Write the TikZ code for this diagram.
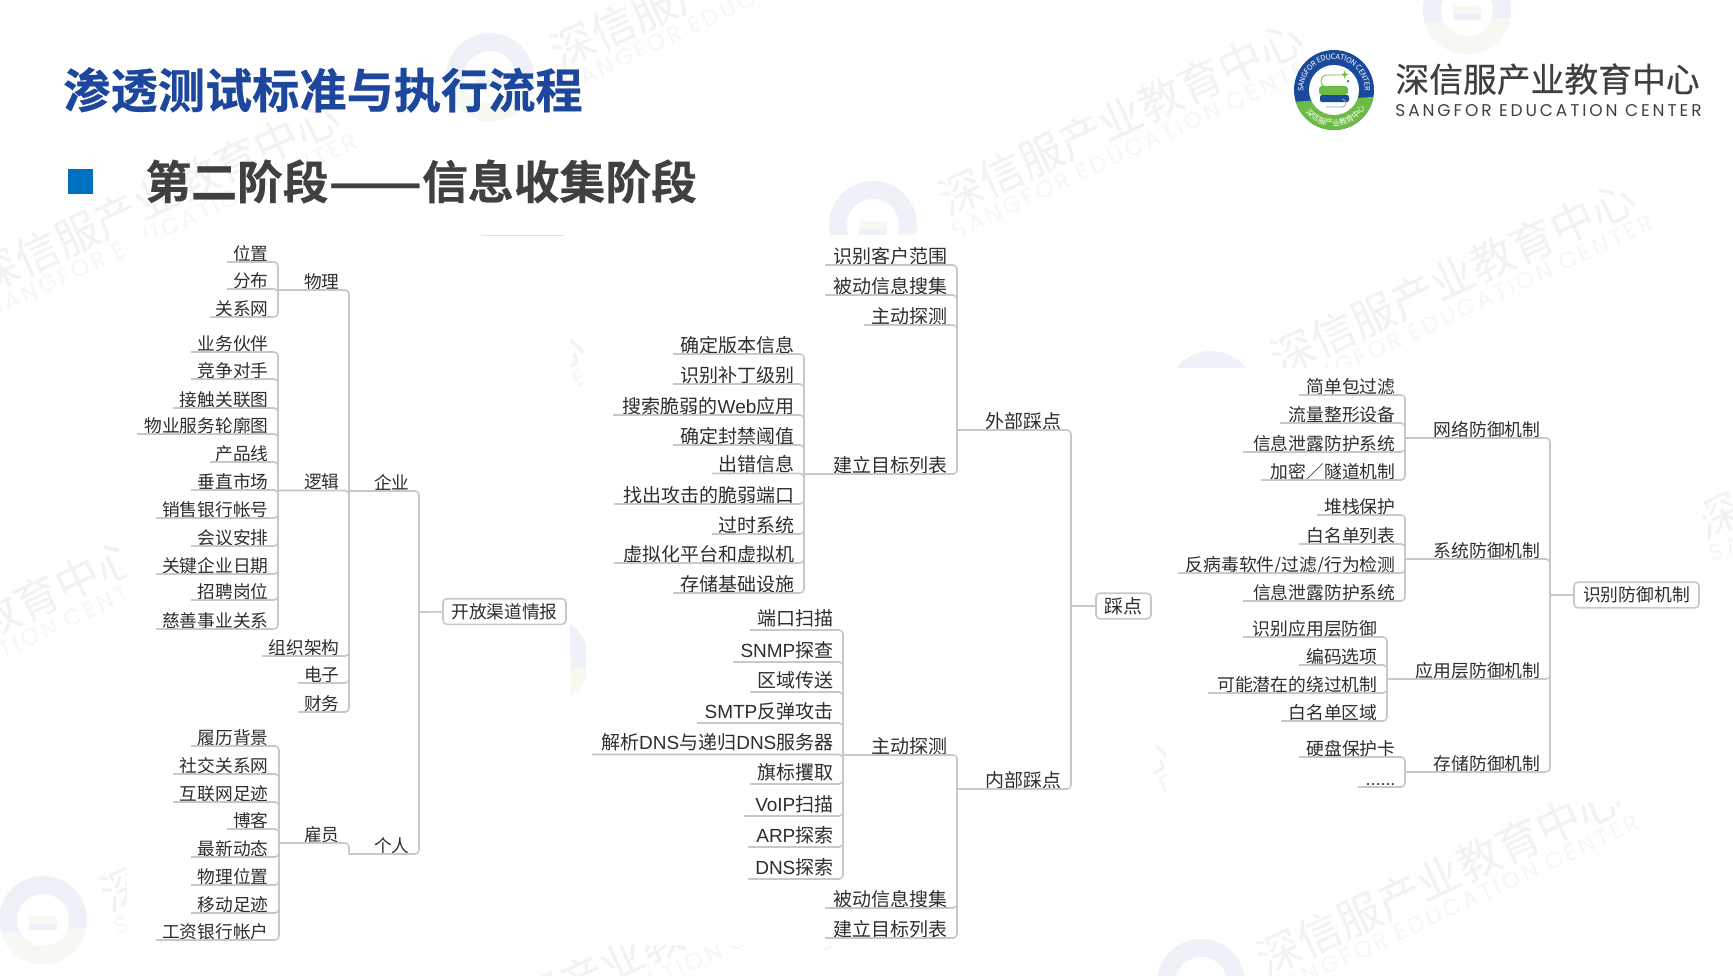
\documentclass[tikz,border=0pt]{standalone}
\usepackage{xcolor}
\usepackage{graphicx}
\usepackage{fontspec}
\usetikzlibrary{positioning,calc,decorations.text}
\setmainfont{Noto Sans CJK SC}
\newfontfamily\latinfont{Liberation Sans}
\newfontfamily\brandfont[LetterSpace=17]{Poppins}
\newfontfamily\wmfont[LetterSpace=15]{Poppins}
\newfontfamily\heavyfont[FakeBold=0.5]{Noto Sans CJK SC Bold}
\newfontfamily\brandcnfont[FakeBold=0.3]{Noto Sans CJK SC}
\newcommand{\la}[1]{{\latinfont #1}}
\definecolor{titleblue}{HTML}{1D479D}
\definecolor{logoblue}{HTML}{1B4A9C}
\definecolor{logogreen}{HTML}{6DBB45}
\definecolor{markblue}{HTML}{0070C0}
\definecolor{darktext}{HTML}{404040}
\definecolor{linegray}{HTML}{C8C8C8}
\definecolor{maptext}{HTML}{2E2E2E}
\definecolor{wmblue}{HTML}{EEF1F8}
\definecolor{wmgreen}{HTML}{F5F9F1}

\begin{document}
\begin{tikzpicture}[x=0.5pt, y=-0.5pt,
  item/.style={anchor=south west, inner xsep=0pt, inner ysep=0pt, align=right,
               text height=0.82em, text depth=0.08em, text=maptext},
  lefttree/.style={item, font=\fontsize{8.85}{10}\selectfont},
  midtree/.style={item, font=\fontsize{9.5}{11}\selectfont},
  righttree/.style={item, font=\fontsize{8.9}{10}\selectfont},
  rootbox/.style={draw=linegray, line width=0.8pt, rounded corners=2pt, fill=white,
                  inner sep=0pt, minimum height=12.8pt, text=maptext},
  link/.style={draw=linegray, line width=0.8pt, rounded corners=2pt},
  wmtext/.style={transform shape, anchor=base west, inner sep=0pt}]

\path[use as bounding box, clip] (0,0) rectangle (1733,975);
\fill[white] (0,0) rectangle (1733,975);

% watermark
\foreach \x/\y in {560/70, 948/217, 1280/377, 1266/977, 110/913, -16/296, -215/734,
                   449/1058, 1705/540, 229/524, 815/930}{
  \begin{scope}[shift={(\x,\y)}, rotate=25]
    \node[wmtext, text=black!5, font=\fontsize{22}{24}\selectfont] at (0pt,0pt) {深信服产业教育中心};
    \node[wmtext, text=black!3.5, font=\wmfont\fontsize{11.5}{14}\selectfont] at (-1pt,-12pt) {SANGFOR EDUCATION CENTER};
  \end{scope}
}
\foreach \x/\y in {1467/10, 490/77, 873/225, 1211/395, 1201/983, 43/920, 545/660}{
  \begin{scope}[shift={(\x,\y)}]
    \fill[wmblue] (0pt,0pt) circle (22pt);
    \fill[wmgreen] (197:22pt) arc[start angle=197, end angle=350, radius=22pt] -- cycle;
    \fill[white] (0pt,0pt) circle (13pt);
    \fill[wmgreen] (-7pt,-2pt) rectangle (7pt,2pt);
    \fill[wmblue] (-7pt,-5pt) rectangle (7pt,-2pt);
  \end{scope}
}

% white panels of the three maps
\fill[white] (127,235) rectangle (570,962);
\fill[white] (586,235) rectangle (1154,945);
\fill[white] (1166,368) rectangle (1702,802);
\draw[black!12, line width=0.5pt] (481,235) -- (564,235);

% header
\node[anchor=base west, inner sep=0pt, text=titleblue, font=\heavyfont\fontsize{23.6}{26}\selectfont]
  (title) at (63,108) {渗透测试标准与执行流程};
\fill[markblue] (68,169) rectangle (93,194);
\node[anchor=base west, inner sep=0pt, text=darktext, font=\heavyfont\fontsize{22.9}{26}\selectfont]
  (subtitle) at (145,199) {第二阶段\scalebox{1.2}[1]{——}信息收集阶段};

% logo
\begin{scope}[shift={(1334,90)}]
  \fill[logoblue] (0pt,0pt) circle (20pt);
  \fill[logogreen] (197:20pt) arc[start angle=197, end angle=350, radius=20pt] -- cycle;
  \fill[white] (0pt,0pt) circle (12.5pt);
  \path[decorate, decoration={text along path, text align=center, raise=-1.2pt,
        text={|\color{white}\fontsize{3.7}{4}\selectfont|SANGFOR EDUCATION CENTER}}]
    (188:16.5pt) arc[start angle=188, end angle=-8, radius=16.5pt];
  \path[decorate, decoration={text along path, text align=center, raise=0pt,
        text={|\color{white}\fontsize{3.9}{4}\selectfont|深信服产业教育中心}}]
    (207:18pt) arc[start angle=207, end angle=340, radius=18pt];
  \fill[logogreen, rounded corners=1.5pt] (-7.5pt,-2.5pt) rectangle (7pt,2pt);
  \fill[logoblue, rounded corners=1pt] (-7pt,-6pt) rectangle (7.5pt,-2.5pt);
  \draw[logogreen, line width=0.4pt] (3pt,7.5pt) -- (-3.5pt,7.5pt) arc[start angle=90, end angle=270, radius=3pt];
  \draw[logoblue!50, line width=0.4pt] (-4pt,-8.5pt) -- (4pt,-8.5pt) arc[start angle=-90, end angle=90, radius=2pt];
  \fill[logogreen] (5.3pt,9.8pt) -- (5.8pt,8.2pt) -- (7.4pt,7.7pt) -- (5.8pt,7.2pt) -- (5.3pt,5.6pt) -- (4.8pt,7.2pt) -- (3.2pt,7.7pt) -- (4.8pt,8.2pt) -- cycle;
  \fill[logoblue] (7pt,4.4pt) circle (0.6pt);
\end{scope}
\node[anchor=base west, inner sep=0pt, text=darktext, font=\brandcnfont\fontsize{16.9}{19}\selectfont]
  (brandcn) at (1395,92) {深信服产业教育中心};
\node[anchor=base west, inner sep=0pt, text=darktext, font=\brandfont\fontsize{8.5}{10}\selectfont]
  (branden) at (1395,116) {SANGFOR EDUCATION CENTER};

% left map
\node[rootbox, minimum width=61.5pt, font=\fontsize{8.85}{10}\selectfont] (osint) at (504.5,611.5) {开放渠道情报};
\coordinate (osbus) at (419,612);
\draw[link] (osbus) -- (osint);
\foreach \n/\y/\t in {ent/491/企业, per/854/个人}{
  \node[lefttree, text width={0.5*(419-349)*1pt}] (\n) at (349,\y) {\t\kern5pt};
  \draw[link] (\n.south west) -| (osbus);
}
\foreach \n/\p/\l/\r/\y/\t in {
  phy/ent/278/349/290/物理, lgc/ent/278/349/490.5/逻辑, org/ent/262/349/656/组织架构,
  ele/ent/298/349/683/电子, fin/ent/298/349/712/财务, emp/per/279/349/843/雇员,
  pos/phy/227/278/262/位置, dis/phy/227/278/289/分布, rel/phy/210/278/317/关系网,
  par/lgc/191/278/352/业务伙伴, com/lgc/191/278/379/竞争对手, cnt/lgc/173/278/408/接触关联图,
  svc/lgc/137/278/434/物业服务轮廓图, prd/lgc/210/278/462/产品线, ver/lgc/191/278/490/垂直市场,
  acc/lgc/156/278/518/销售银行帐号, mtg/lgc/191/278/546/会议安排, day/lgc/156/278/574/关键企业日期,
  job/lgc/191/278/600/招聘岗位, cha/lgc/156/278/629/慈善事业关系,
  cvs/emp/191/278/746/履历背景, soc/emp/173/278/774/社交关系网, web/emp/173/278/802/互联网足迹,
  blg/emp/227/278/829/博客, nws/emp/191/278/857/最新动态, loc/emp/191/278/885/物理位置,
  mob/emp/191/278/913/移动足迹, pay/emp/156/278/940/工资银行帐户}{
  \node[lefttree, text width={0.5*(\r-\l)*1pt}] (\n) at (\l,\y) {\t\kern5pt};
  \draw[link] (\n.south west) -| (\p.south west);
}

% middle map
\node[rootbox, minimum width=27.5pt, font=\fontsize{9.5}{11}\selectfont] (foot) at (1123.5,606) {踩点};
\coordinate (footbus) at (1071,606);
\draw[link] (footbus) -- (foot);
\foreach \n/\y/\t in {ext/430/外部踩点, int/789/内部踩点}{
  \node[midtree, text width={0.5*(1071-957)*1pt}] (\n) at (957,\y) {\t\kern5pt};
  \draw[link] (\n.south west) -| (footbus);
}
\foreach \n/\p/\l/\r/\y/\t in {
  scope/ext/825/957/265/识别客户范围, pasv/ext/825/957/295/被动信息搜集, actv/ext/864/957/325/主动探测,
  list/ext/804/957/474/建立目标列表, iact/int/843/957/755/主动探测,
  ipas/int/825/957/908/被动信息搜集, ilst/int/825/957/938/建立目标列表,
  vers/list/673/804/354/确定版本信息, patch/list/673/804/384/识别补丁级别,
  wapp/list/613/804/415/搜索脆弱的\la{Web}应用, block/list/673/804/445/确定封禁阈值,
  errs/list/712/804/473.5/出错信息, port/list/614/804/504/找出攻击的脆弱端口,
  olds/list/712/804/534/过时系统, virt/list/614/804/563/虚拟化平台和虚拟机,
  stor/list/673/804/593/存储基础设施}{
  \node[midtree, text width={0.5*(\r-\l)*1pt}] (\n) at (\l,\y) {\t\kern5pt};
  \draw[link] (\n.south west) -| (\p.south west);
}
\foreach \n/\l/\y/\t in {
  scan/750/630/端口扫描, snmp/733/662/\la{SNMP}探查, zone/750/692/区域传送,
  smtp/697/723/\la{SMTP}反弹攻击, rdns/592/754.5/解析\la{DNS}与递归\la{DNS}服务器,
  bann/750/784/旗标攫取, voip/744/816/\la{VoIP}扫描,
  arpp/748/847/\la{ARP}探索, dnsp/748/879/\la{DNS}探索}{
  \node[midtree, text depth=0.21em, text width={0.5*(843-\l)*1pt}] (\n) at (\l,\y) {\t\kern5pt};
  \draw[link] (\n.south west) -| (iact.south west);
}

% right map
\node[rootbox, minimum width=62.5pt, font=\fontsize{8.9}{10}\selectfont] (defs) at (1636.5,595) {识别防御机制};
\coordinate (defsbus) at (1550,595);
\draw[link] (defsbus) -- (defs);
\foreach \n/\l/\y/\t in {netd/1405/438/网络防御机制, sysd/1405/559/系统防御机制,
                         appd/1387/679/应用层防御机制, stod/1405/772/存储防御机制}{
  \node[righttree, text width={0.5*(1550-\l)*1pt}] (\n) at (\l,\y) {\t\kern5pt};
  \draw[link] (\n.south west) -| (defsbus);
}
\foreach \n/\p/\l/\r/\y/\t in {
  pkt/netd/1299/1405/395/简单包过滤, shp/netd/1280/1405/423/流量整形设备,
  dlp/netd/1243/1405/452/信息泄露防护系统, vpn/netd/1261/1405/480/加密／隧道机制,
  stk/sysd/1317/1405/515/堆栈保护, wls/sysd/1299/1405/544/白名单列表,
  avs/sysd/1178/1405/573/{反病毒软件/过滤/行为检测}, dls/sysd/1243/1405/601/信息泄露防护系统,
  waf/appd/1243/1387/637/识别应用层防御, enc/appd/1299/1387/665/编码选项,
  byp/appd/1208/1387/693/可能潜在的绕过机制, wlz/appd/1281/1387/721/白名单区域,
  hdd/stod/1299/1405/757/硬盘保护卡, etc/stod/1358/1405/787/\la{......}}{
  \node[righttree, text width={0.5*(\r-\l)*1pt}] (\n) at (\l,\y) {\t\kern5pt};
  \draw[link] (\n.south west) -| (\p.south west);
}
\end{tikzpicture}
\end{document}
